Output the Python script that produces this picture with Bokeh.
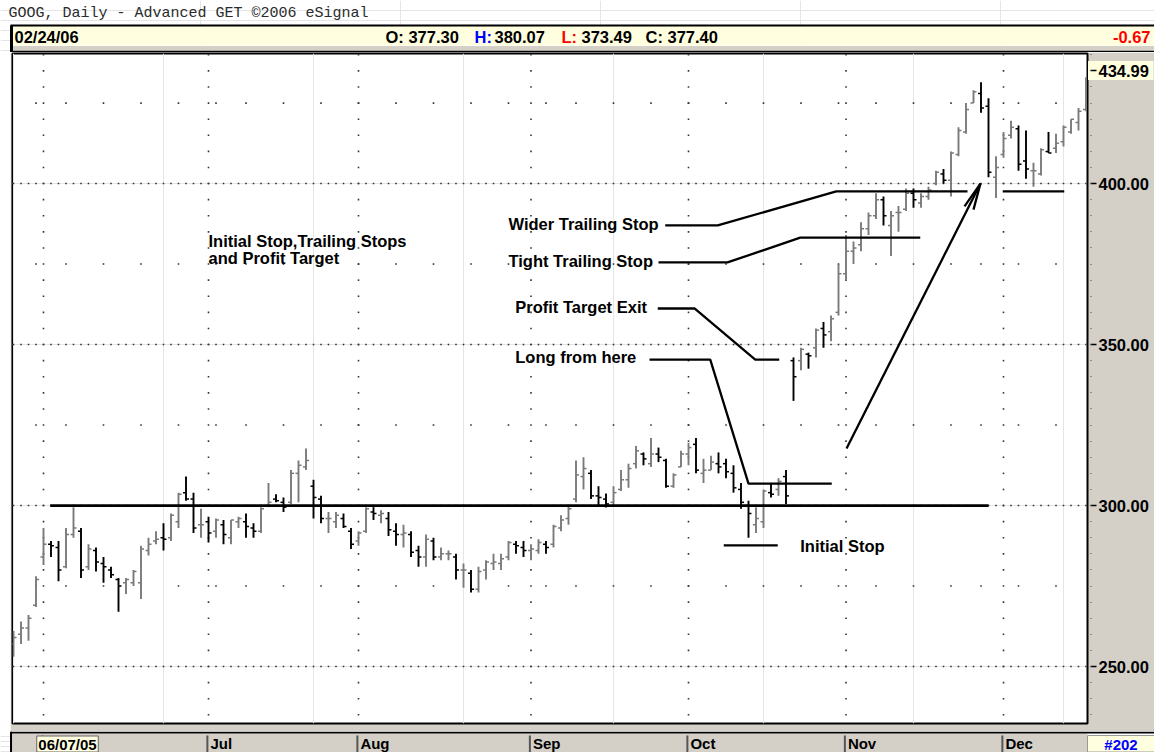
import pandas as pd
from bokeh.plotting import figure
from bokeh.models import (Range1d, LinearAxis, FixedTicker, NumeralTickFormatter,
                          Spacer, ColumnDataSource)
from bokeh.layouts import column, row
from bokeh.core.properties import value
from bokeh.embed import file_html
from bokeh.resources import INLINE

# ---------------- data ----------------
title_text = "GOOG, Daily - Advanced GET \u00a92006 eSignal"
header_date = "02/24/06"
hdr_open, hdr_high, hdr_low, hdr_close, hdr_change = "377.30", "380.07", "373.49", "377.40", "-0.67"
cursor_date = "06/07/05"
chart_no = "#202"
last_price = 434.99

holidays = ["2005-05-30", "2005-07-04", "2005-09-05", "2005-11-24"]
dates = [d for d in pd.bdate_range("2005-05-25", "2005-12-16")
         if d.strftime("%Y-%m-%d") not in holidays]

opens = [257, 260, 262, 269, 284, 288, 287, 281, 291, 292,
         281, 286, 282, 280, 277, 276, 276, 276, 286, 289,
         290, 290, 295, 304, 302, 294, 295, 292, 294, 290,
         295, 295, 293, 292, 300, 302, 301, 301, 310, 312,
         306, 302, 296, 295, 296, 292, 289, 292, 298, 297,
         296, 292, 291, 291, 286, 284, 289, 284, 285, 284,
         280, 279, 274, 280, 282, 282, 284, 288, 287, 286,
         286, 288, 288, 293, 296, 302, 309, 310, 303, 302,
         301, 305, 308, 313, 316, 313, 316, 314, 306, 312,
         316, 319, 310, 311, 313, 313, 310, 305, 300, 294,
         295, 304, 305, 309, 345, 345, 347, 349, 355, 354,
         360, 372, 379, 381, 386, 390, 395, 387, 391, 392,
         397, 394, 396, 400, 403, 401, 409, 416, 425, 428,
         424, 402, 409, 415, 417, 407, 404, 403, 410, 411,
         413, 416, 419, 423]
highs = [261, 264, 266, 278, 293, 289, 289, 293, 299.5, 293,
         288, 287, 284, 281, 277.5, 277.5, 280, 287.5, 290, 292,
         294.5, 297.5, 304, 309, 304, 299, 296.5, 296, 295.5, 295.5,
         296.5, 297.5, 294.5, 299.5, 307, 303.5, 302.5, 311, 314, 317.7,
         308, 303, 298, 298, 297.5, 293, 292, 299.5, 299.5, 298.5,
         298, 294.5, 294, 292, 287.5, 291, 290, 287, 286, 285,
         282, 280, 281, 283, 285, 285, 289, 289, 289, 288,
         289.5, 289, 294, 297, 300, 314, 315, 311, 306, 303.7,
         306, 311, 313, 318.5, 316.5, 321, 318, 314.5, 310, 317,
         319.5, 321, 314.5, 315.5, 316.5, 314.5, 312.5, 307, 301.5, 299.5,
         305, 307, 308.5, 311, 346, 349, 347.5, 355, 357, 359,
         375, 384, 382, 388, 391, 397, 396, 391.5, 393, 398.5,
         398.5, 397, 399, 404, 404.5, 410, 417.5, 425, 429, 431.5,
         426.5, 408.5, 416, 419.5, 418, 416.5, 406.5, 411, 416, 415.5,
         418, 420, 423.5, 433]
lows = [253, 257, 258, 268.5, 281.5, 284, 276.5, 280.5, 290, 277.5,
        280, 279.5, 276, 277.5, 267, 272.5, 275, 271, 284.5, 288,
        286, 289, 293, 301.5, 291.5, 290, 288.5, 290, 288, 288,
        293, 290, 290, 291.5, 299.5, 301, 298, 300.5, 301, 311,
        296, 294.5, 291.5, 293, 293, 286.5, 287.5, 291.5, 295.5, 294.5,
        290.5, 287.5, 287, 284, 281, 281, 283, 283, 283, 277,
        274.5, 273, 273, 277, 280, 280, 283, 285, 284, 283,
        285, 285, 287, 292, 294, 301, 305, 302, 300, 299.4,
        300, 304.5, 305.5, 311.5, 312.5, 312, 313.5, 305.5, 305.5, 312,
        312.5, 310, 307, 311, 310, 308.5, 304, 299, 290, 291.5,
        293, 302.5, 303, 300.5, 332.5, 342, 342.5, 346, 349, 351,
        359, 370, 375, 379, 384, 389, 387, 377.5, 385, 391.5,
        392.5, 392.5, 395, 399.5, 400, 396, 408.5, 415.5, 425, 422,
        402, 395.5, 408, 414, 404, 401.5, 399, 402.5, 409.5, 409.5,
        411.5, 415.5, 416.5, 422.5]
closes = [259, 262, 265, 277, 288, 287.5, 280, 291, 293, 280,
          286.5, 282.5, 281, 278.5, 275, 277, 279.5, 286.5, 288, 289.5,
          289.5, 297, 303.5, 302, 293, 294, 291.5, 295.5, 291, 295.5,
          296, 293.5, 292, 299, 301, 301.5, 299.5, 310, 312.5, 314,
          302.5, 296, 296, 297, 293.5, 288, 291.5, 299, 297.5, 297.5,
          292.5, 291, 291.5, 285.5, 284, 289.5, 284, 285, 285, 280,
          280, 274, 279.5, 282.5, 282.5, 283.5, 288.5, 287.5, 286, 286.5,
          288.5, 287, 293.5, 295.5, 299, 309.5, 311.5, 303, 302.5, 300.5,
          304, 308, 311.5, 317, 314.5, 316, 315, 306, 309.5, 316,
          318, 311, 311, 313.5, 312, 310.5, 305.5, 301, 297.5, 296,
          304.5, 303.5, 307.5, 303, 340, 348.5, 346.5, 354.5, 353, 358,
          372, 379, 380, 386, 390, 395, 390, 390, 391, 397,
          395, 396, 398, 403.5, 401, 409.5, 416.5, 423, 428.5, 423.5,
          403.5, 405, 414, 417.5, 406, 404.5, 404, 410.5, 409.5, 412.5,
          417.5, 420, 422.5, 430]

price_ticks = [250, 300, 350, 400]
minor_price_ticks = list(range(235, 441, 5))
sparse_levels = [275, 325, 375, 425]

# annotation paths (x in trading-day index, y in price)
support_x, support_y = [4.9, 130.0], [300, 300]
stop_x, stop_y = [94.7, 101.9], [287.6, 287.6]
long_x, long_y = [84.8, 92.9, 98.0, 109.1], [345.3, 345.3, 306.8, 306.8]
target_x, target_y = [85.9, 90.8, 98.9, 102.1], [361.2, 361.2, 345.3, 345.3]
tight_x, tight_y = [86.0, 95.2, 104.9, 120.9], [375.5, 375.5, 383.2, 383.2]
wider_x, wider_y = [86.9, 93.9, 109.7, 127.2], [387.0, 387.0, 397.6, 397.6]
wider2_x, wider2_y = [131.9, 140.1], [397.6, 397.6]
arrow_x, arrow_y = [111.07, 128.93], [317.7, 400.0]
head_xs = [[126.8, 128.93, 128.0]]
head_ys = [[392.9, 400.0, 391.9]]

notes = ["Initial Stop,Trailing Stops", "and Profit Target", "Wider Trailing Stop",
         "Tight Trailing Stop", "Profit Target Exit", "Long from here", "Initial Stop"]
notes_x = [26.0, 26.0, 66.0, 66.0, 66.9, 66.9, 104.9]
notes_y = [382.3, 377.0, 387.3, 375.8, 361.8, 346.0, 287.3]

# ---------------- derived ----------------
n = len(dates)
idx = list(range(n))
month_starts = [i for i in idx if i > 0 and dates[i].month != dates[i - 1].month]
week_starts = [i for i in idx if i > 0 and dates[i].isocalendar()[1] != dates[i - 1].isocalendar()[1]]
colors = ["#7a7a7a" if c >= o else "#000000" for o, c in zip(opens, closes)]

PX0, PXS = 13.0, 7.5         # page x of bar 0, pixels per bar
XMIN, XMAX = (12 - PX0) / PXS, (1087 - PX0) / PXS
XEND = (1154 - PX0) / PXS
YMIN, YMAX = 232.3, 440.4
FONT = value("Liberation Sans")
FS = "16.5px"
GREY = "#D4D0C8"
YEL = "#FFFFE0"

# ---------------- header ----------------
hdr = figure(width=1154, height=52, x_range=Range1d(0, 1154), y_range=Range1d(52, 0),
             output_backend="svg", toolbar_location=None, x_axis_location=None,
             y_axis_location=None, min_border=0, outline_line_color=None,
             background_fill_color="white", border_fill_color="white")
hdr.quad(left=11, right=1154, top=25, bottom=45, fill_color=YEL, line_color=None)
hdr.quad(left=11, right=1154, top=45.5, bottom=50, fill_color=GREY, line_color=None)
hdr.segment(x0=[10, 11, 10], y0=[25, 25, 51.3], x1=[1154, 11, 1154], y1=[25, 52, 51.3],
            line_color="black", line_width=[2, 3, 2])
hdr.text(x=[8], y=[13], text=[title_text], text_font=value("Liberation Mono"),
         text_font_size="15px", text_color="#2b2b2b", text_baseline="middle")
h_txt = [header_date, "O: " + hdr_open, "H:", hdr_high, "L:", hdr_low, "C: " + hdr_close]
h_x = [14, 385, 474, 494, 561, 581, 645]
h_col = ["black", "black", "#0000FF", "black", "#FF0000", "black", "black"]
hdr.text(x=h_x, y=[36] * len(h_x), text=h_txt, text_color=h_col, text_font=FONT,
         text_font_style="bold", text_font_size=FS, text_baseline="middle")
hdr.text(x=[1150], y=[36], text=[hdr_change], text_color="#FF0000", text_font=FONT,
         text_font_style="bold", text_font_size=FS, text_baseline="middle", text_align="right")

# ---------------- main chart ----------------
p = figure(width=1144, height=679, x_range=Range1d(XMIN, XMAX), y_range=Range1d(YMIN, YMAX),
           output_backend="svg", toolbar_location=None, x_axis_location=None,
           y_axis_location=None, min_border_left=2, min_border_right=67,
           min_border_top=1, min_border_bottom=8, background_fill_color="white",
           border_fill_color=GREY, outline_line_color="black", outline_line_width=2)

# dotted grid
gx, gy = [], []
for lv in price_ticks:
    gx += idx
    gy += [lv] * n
for lv in sparse_levels:
    gx += week_starts
    gy += [lv] * len(week_starts)
for m in month_starts:
    gx += [m] * len(minor_price_ticks)
    gy += minor_price_ticks
p.scatter(x=gx, y=gy, marker="square", size=1.6, fill_color="#333333", line_color=None)

# OHLC bars
src = ColumnDataSource(dict(i=idx, il=[i - 0.4 for i in idx], ir=[i + 0.4 for i in idx],
                            o=opens, h=highs, l=lows, c=closes, col=colors))
p.segment(x0="i", y0="l", x1="i", y1="h", line_color="col", line_width=1.9, source=src)
p.segment(x0="il", y0="o", x1="i", y1="o", line_color="col", line_width=1.5, source=src)
p.segment(x0="i", y0="c", x1="ir", y1="c", line_color="col", line_width=1.5, source=src)

# annotation lines
p.line(support_x, support_y, line_color="black", line_width=2.8)
p.multi_line(xs=[stop_x, long_x, target_x, tight_x, wider_x, wider2_x, arrow_x] + head_xs,
             ys=[stop_y, long_y, target_y, tight_y, wider_y, wider2_y, arrow_y] + head_ys,
             line_color="black", line_width=2.3)
p.text(x=notes_x, y=notes_y, text=notes, text_font=FONT, text_font_style="bold",
       text_font_size=FS, text_color="black", text_baseline="middle", text_align="left")

# yellow box behind the last-price label (a zero-width axis whose single tick is a thick bar)
box_ax = LinearAxis(ticker=FixedTicker(ticks=[last_price], minor_ticks=[]),
                    major_label_overrides={last_price: ""})
box_ax.axis_line_color = None
box_ax.major_tick_line_color = YEL
box_ax.major_tick_line_width = 19
box_ax.major_tick_line_cap = "butt"
box_ax.major_tick_in = -66
box_ax.major_tick_out = 0
box_ax.minor_tick_line_color = None
box_ax.major_label_standoff = 0
box_ax.major_label_text_font_size = "1px"
p.add_layout(box_ax, "right")

# right price axis
yax = LinearAxis(ticker=FixedTicker(ticks=price_ticks + [last_price], minor_ticks=minor_price_ticks),
                 formatter=NumeralTickFormatter(format="0.00"))
yax.axis_line_color = "black"
yax.major_tick_line_color = "black"
yax.major_tick_line_width = 1.5
yax.major_tick_in = -3
yax.major_tick_out = 9
yax.minor_tick_line_color = "#555555"
yax.minor_tick_in = -3
yax.minor_tick_out = 4
yax.major_label_standoff = 2
yax.major_label_text_font = "Liberation Sans"
yax.major_label_text_font_style = "bold"
yax.major_label_text_font_size = FS
yax.major_label_text_color = "black"
p.add_layout(yax, "right")

# ---------------- bottom date band ----------------
BFS = "15px"
bot = figure(width=1154, height=21, x_range=Range1d(-PX0 / PXS, XEND),
             y_range=Range1d(21, 0), output_backend="svg", toolbar_location=None,
             x_axis_location=None, y_axis_location=None, min_border=0,
             outline_line_color=None, background_fill_color="white", border_fill_color="white")
bot.quad(left=-0.4, right=XMAX, top=2, bottom=21, fill_color=GREY, line_color=None)
bot.segment(x0=[-0.4, -0.33], y0=[1, 0], x1=[XEND, -0.33], y1=[1, 21],
            line_color="black", line_width=2)
bot.segment(x0=[m - 0.15 for m in month_starts], y0=[4] * len(month_starts),
            x1=[m - 0.15 for m in month_starts], y1=[21] * len(month_starts),
            line_color="#555555", line_width=2)
bot.text(x=[m + 0.25 for m in month_starts], y=[12] * len(month_starts),
         text=[dates[m].strftime("%b") for m in month_starts], text_font=FONT,
         text_font_style="bold", text_font_size=BFS, text_color="black", text_baseline="middle")
ci = [i for i in idx if dates[i].strftime("%m/%d/%y") == cursor_date][0] - 0.8
bot.quad(left=ci - 4.1, right=ci + 4.1, top=4.5, bottom=20.5, fill_color=YEL, line_color="#666666")
bot.text(x=[ci], y=[12.5], text=[cursor_date], text_font=FONT, text_font_style="bold",
         text_font_size=BFS, text_color="black", text_baseline="middle", text_align="center")
bot.quad(left=XMAX, right=XEND, top=4, bottom=20.5, fill_color=YEL, line_color="#999999")
bot.text(x=[(XMAX + XEND) / 2], y=[12.5], text=[chart_no], text_font=FONT,
         text_font_style="bold", text_font_size=BFS, text_color="#0000FF",
         text_baseline="middle", text_align="center")

layout = column(hdr, row(Spacer(width=10, height=679), p), bot)

html = file_html(layout, INLINE, title="GOOG Daily")
html = html.replace("</head>", "<style>html,body{margin:0;padding:0;overflow:hidden;}</style></head>", 1)
open("out.html", "w").write(html)
